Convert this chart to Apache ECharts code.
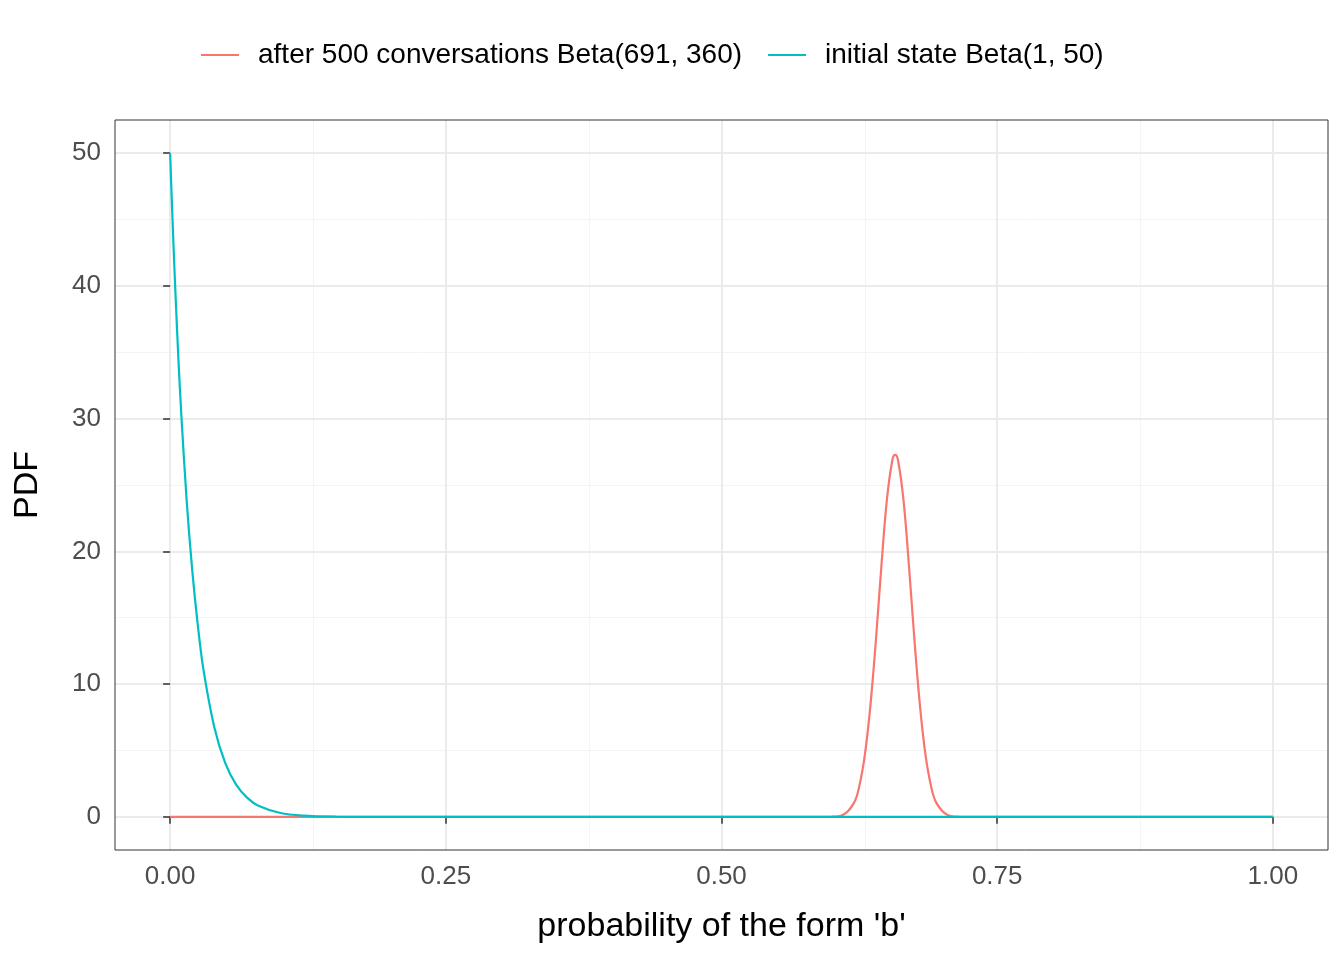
<!DOCTYPE html>
<html><head><meta charset="utf-8">
<script src="https://cdn.jsdelivr.net/npm/echarts@6/dist/echarts.min.js"></script>
<style>body{margin:0}#c{width:1344px;height:960px}</style></head>
<body><div id="c"></div>
<script>
const afterX = [0, 0.55, 0.60, 0.61, 0.62, 0.625, 0.63, 0.635, 0.64, 0.645, 0.65, 0.655, 0.6575, 0.66, 0.665, 0.67, 0.675, 0.68, 0.685, 0.69, 0.695, 0.705, 0.715, 0.75, 1];
const afterY = [0, 0, 0.012, 0.14, 1.03, 2.33, 4.66, 8.35, 13.3, 18.9, 23.9, 26.9, 27.27, 26.9, 23.9, 18.9, 13.3, 8.35, 4.66, 2.33, 1.03, 0.14, 0.012, 0, 0];
const initX = [0, 0.0025, 0.005, 0.0075, 0.01, 0.015, 0.02, 0.025, 0.03, 0.04, 0.05, 0.06, 0.07, 0.08, 0.10, 0.12, 0.15, 0.2, 0.3, 1];
const initY = [50, 44.2, 39.1, 34.5, 30.5, 23.8, 18.6, 14.5, 11.2, 6.77, 4.05, 2.41, 1.43, 0.84, 0.29, 0.095, 0.017, 0.0009, 0, 0];
const xTicks = [0, 0.25, 0.5, 0.75, 1];
const xMinor = [0.125, 0.375, 0.625, 0.875];
const yTicks = [0, 10, 20, 30, 40, 50];
const yMinor = [5, 15, 25, 35, 45];
const names = ['after 500 conversations Beta(691, 360)', 'initial state Beta(1, 50)'];

const F = 'Liberation Sans, Arial, sans-serif';
const gl = (arr, key, color, w) => arr.map(v => ({[key]: v, lineStyle: {color, width: w, type: 'solid'}}));
const chart = echarts.init(document.getElementById('c'));
chart.setOption({
  animation: false,
  backgroundColor: '#fff',
  legend: {
    data: names, top: 36, left: 196, icon: 'rect', itemWidth: 38, itemHeight: 2, itemGap: 26,
    textStyle: {fontFamily: F, fontSize: 28, color: '#000', padding: [0, 0, 0, 14]}
  },
  grid: {left: 115, right: 16, top: 120, bottom: 110, show: true, borderColor: '#333', borderWidth: 1, backgroundColor: 'transparent', z: 10},
  xAxis: {
    type: 'value', min: -0.05, max: 1.05,
    name: "probability of the form 'b'", nameLocation: 'middle', nameGap: 60,
    nameTextStyle: {fontFamily: F, fontSize: 34, color: '#000'},
    axisLine: {show: false}, splitLine: {show: false},
    axisTick: {show: true, customValues: xTicks, length: 7, lineStyle: {color: '#333', width: 1.5}},
    axisLabel: {customValues: xTicks, formatter: v => v.toFixed(2), fontFamily: F, fontSize: 26, color: '#4d4d4d', margin: 14}
  },
  yAxis: {
    type: 'value', min: -2.5, max: 52.5,
    name: 'PDF', nameLocation: 'middle', nameGap: 70,
    nameTextStyle: {fontFamily: F, fontSize: 34, color: '#000'},
    axisLine: {show: false}, splitLine: {show: false},
    axisTick: {show: true, customValues: yTicks, length: 7, lineStyle: {color: '#333', width: 1.5}},
    axisLabel: {customValues: yTicks, fontFamily: F, fontSize: 26, color: '#4d4d4d', margin: 14}
  },
  series: [
    {type: 'line', data: [], silent: true, z: 0, markLine: {silent: true, symbol: 'none', label: {show: false}, animation: false, z: 0,
      data: [...gl(xMinor, 'xAxis', '#f4f4f4', 1), ...gl(yMinor, 'yAxis', '#f4f4f4', 1), ...gl(xTicks, 'xAxis', '#ebebeb', 2), ...gl(yTicks, 'yAxis', '#ebebeb', 2)]}},
    {name: names[0], type: 'line', z: 5, showSymbol: false, symbol: 'none', smooth: 0.4, color: '#F8766D', lineStyle: {width: 2.2},
      data: afterX.map((x, i) => [x, afterY[i]])},
    {name: names[1], type: 'line', z: 6, showSymbol: false, symbol: 'none', smooth: 0.3, color: '#00BFC4', lineStyle: {width: 2.2},
      data: initX.map((x, i) => [x, initY[i]])}
  ]
});
</script></body></html>
